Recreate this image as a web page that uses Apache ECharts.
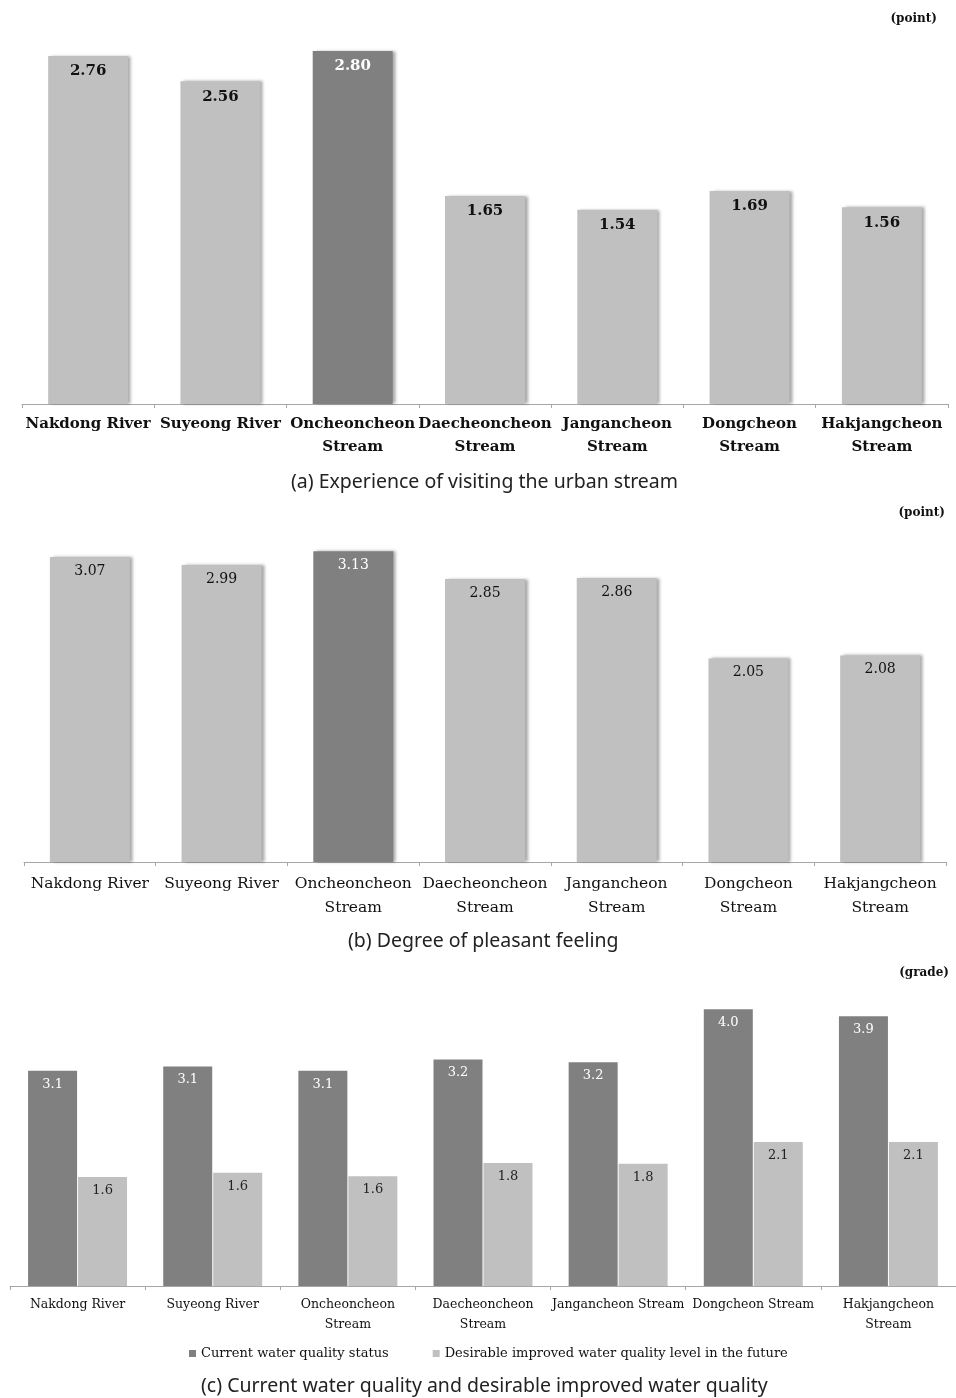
<!DOCTYPE html>
<html>
<head>
<meta charset="utf-8">
<script src="https://cdn.jsdelivr.net/npm/echarts@6/dist/echarts.min.js"></script>
<style>
  html, body { margin: 0; padding: 0; background: #fff; }
  #main { width: 956px; height: 1398px; }
</style>
</head>
<body>
<div id="main"></div>
<script>
var streams = ['Nakdong River', 'Suyeong River', 'Oncheoncheon\nStream', 'Daecheoncheon\nStream',
               'Jangancheon\nStream', 'Dongcheon\nStream', 'Hakjangcheon\nStream'];
var streamsC = ['Nakdong River', 'Suyeong River', 'Oncheoncheon\nStream', 'Daecheoncheon\nStream',
                'Jangancheon Stream', 'Dongcheon Stream', 'Hakjangcheon\nStream'];

// (a) experience of visiting
var visitValues = [2.76, 2.56, 2.80, 1.65, 1.54, 1.69, 1.56];
// (b) pleasant feeling
var pleasantValues = [3.07, 2.99, 3.13, 2.85, 2.86, 2.05, 2.08];
// (c) water quality (grade)
var currentQuality = [3.08, 3.14, 3.08, 3.24, 3.20, 3.96, 3.86];
var desiredQuality = [1.56, 1.62, 1.57, 1.76, 1.75, 2.06, 2.06];

var highlightIdx = 2;
var light = '#c0c0c0', dark = '#808080';
var serif = '"DejaVu Serif", "Liberation Serif", serif';
var sans = '"Noto Sans", "Open Sans", sans-serif';

function barData(vals) {
    return vals.map(function (v, i) {
        return {
            value: v,
            itemStyle: { color: i === highlightIdx ? dark : light },
            label: { color: i === highlightIdx ? '#fff' : '#111' }
        };
    });
}

function catAxis(idx, data, font) {
    return {
        type: 'category', gridIndex: idx, data: data,
        axisLine: { lineStyle: { color: '#a6a6a6' } },
        axisTick: { show: true, length: 4, lineStyle: { color: '#a6a6a6' } },
        axisLabel: Object.assign({ interval: 0, color: '#111', fontFamily: serif }, font)
    };
}
function valAxis(idx, max) {
    return {
        type: 'value', gridIndex: idx, min: 0, max: max,
        axisLine: { show: false }, axisTick: { show: false },
        axisLabel: { show: false }, splitLine: { show: false }
    };
}

var shadow = { shadowColor: 'rgba(0,0,0,0.35)', shadowBlur: 3, shadowOffsetX: 3, shadowOffsetY: 0 };
var captionStyle = { fontFamily: sans, fontSize: 19.5, fontWeight: 'normal', color: '#222' };
var unitStyle = { fontFamily: serif, fontSize: 12, fontWeight: 'bold', color: '#111' };

var chart = echarts.init(document.getElementById('main'));
chart.setOption({
    animation: false,
    title: [
        { text: '(point)', right: 14, top: 8, textStyle: unitStyle },
        { text: '(a) Experience of visiting the urban stream', left: 286, top: 467, textStyle: captionStyle },
        { text: '(point)', right: 6, top: 502, textStyle: unitStyle },
        { text: '(b) Degree of pleasant feeling', left: 343, top: 926, textStyle: captionStyle },
        { text: '(grade)', right: 2, top: 962, textStyle: unitStyle },
        { text: '(c) Current water quality and desirable improved water quality', left: 196, top: 1371, textStyle: captionStyle }
    ],
    legend: {
        top: 1342, left: 184, itemWidth: 7, itemHeight: 7, itemGap: 44,
        icon: 'rect',
        textStyle: { fontFamily: serif, fontSize: 13, color: '#111' },
        data: ['Current water quality status', 'Desirable improved water quality level in the future']
    },
    grid: [
        { left: 22, right: 8, top: 25.7, height: 378.3 },
        { left: 24, right: 10, top: 514.4, height: 347.6 },
        { left: 10, right: -2, top: 971.5, height: 314.5 }
    ],
    xAxis: [
        catAxis(0, streams, { fontSize: 15, fontWeight: 'bold', lineHeight: 23, margin: 9 }),
        catAxis(1, streams, { fontSize: 15.5, lineHeight: 24, margin: 10 }),
        catAxis(2, streamsC, { fontSize: 12.5, lineHeight: 20, margin: 9 })
    ],
    yAxis: [valAxis(0, 3), valAxis(1, 3.5), valAxis(2, 4.5)],
    series: [
        {
            type: 'bar', xAxisIndex: 0, yAxisIndex: 0, barWidth: 80,
            data: barData(visitValues), itemStyle: shadow,
            label: { show: true, position: 'insideTop', distance: 8, fontFamily: serif, fontSize: 15, fontWeight: 'bold',
                     formatter: function (p) { return p.value.toFixed(2); } }
        },
        {
            type: 'bar', xAxisIndex: 1, yAxisIndex: 1, barWidth: 80,
            data: barData(pleasantValues), itemStyle: shadow,
            label: { show: true, position: 'insideTop', distance: 7, fontFamily: serif, fontSize: 14,
                     formatter: function (p) { return p.value.toFixed(2); } }
        },
        {
            name: 'Current water quality status',
            type: 'bar', xAxisIndex: 2, yAxisIndex: 2, barWidth: 49, barGap: '2%',
            data: currentQuality, itemStyle: { color: dark },
            label: { show: true, position: 'insideTop', distance: 7, color: '#fff', fontFamily: serif, fontSize: 13,
                     formatter: function (p) { return p.value.toFixed(1); } }
        },
        {
            name: 'Desirable improved water quality level in the future',
            type: 'bar', xAxisIndex: 2, yAxisIndex: 2, barWidth: 49, barGap: '2%',
            data: desiredQuality, itemStyle: { color: light },
            label: { show: true, position: 'insideTop', distance: 7, color: '#222', fontFamily: serif, fontSize: 13,
                     formatter: function (p) { return p.value.toFixed(1); } }
        }
    ]
});
</script>
</body>
</html>
